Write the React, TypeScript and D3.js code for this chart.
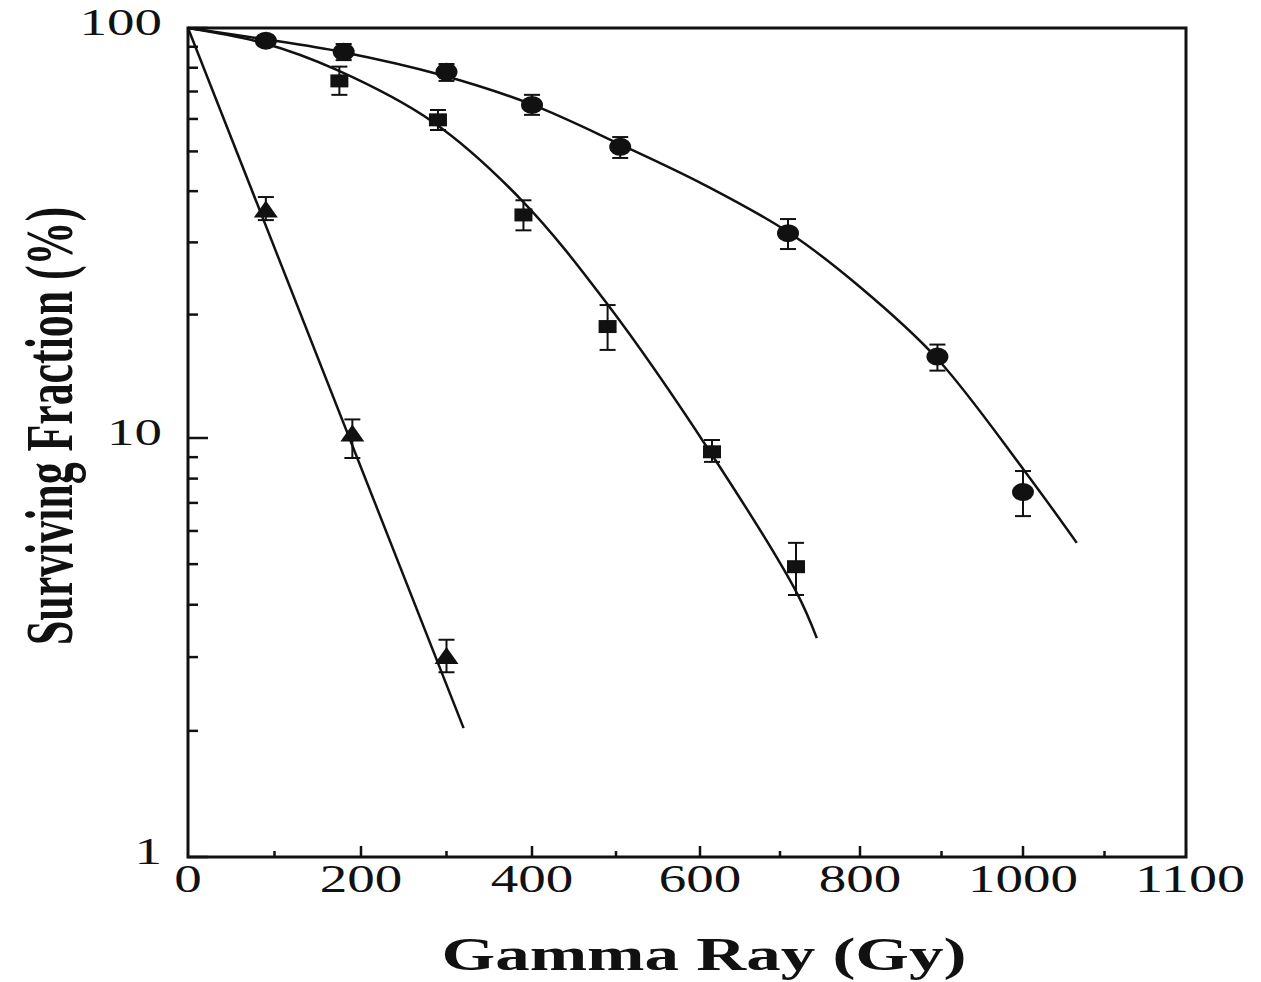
import React from "react";
import * as d3 from "d3";

// ---- data ----
const circleDose = [90, 180, 300, 400, 505, 710, 895, 1000];
const circleSF = [93.1, 87.5, 78.2, 64.9, 51.3, 31.6, 15.8, 7.43];
const circleHi = [95.5, 91.4, 81.7, 68.7, 54.2, 34.2, 16.9, 8.34];
const circleLo = [90.3, 83.5, 74.3, 61.4, 48.2, 28.9, 14.6, 6.51];

const squareDose = [175, 290, 390, 490, 615, 720];
const squareSF = [74.3, 59.7, 35.0, 18.7, 9.27, 4.93];
const squareHi = [80.5, 63.1, 38.0, 21.1, 9.89, 5.62];
const squareLo = [68.7, 56.4, 32.1, 16.4, 8.77, 4.22];

const triangleDose = [90, 190, 300];
const triangleSF = [35.9, 10.2, 3.0];
const triangleHi = [38.7, 11.1, 3.3];
const triangleLo = [34.0, 8.96, 2.76];

// fitted curves, points
const circleFitDose = [0, 87, 178, 294, 398, 507, 606, 710, 800, 894, 1001, 1066];
const circleFitSF = [100, 94.0, 87.4, 76.8, 65.3, 51.8, 41.4, 31.8, 23.35, 15.67, 8.39, 5.62];
const squareFitDose = [0, 87, 172, 284, 388, 489, 612, 721, 746];
const squareFitSF = [100, 91.9, 79.0, 59.0, 38.0, 21.3, 9.3, 4.27, 3.33];
const triangleFitDose = [0, 320];
const triangleFitSF = [100, 2.03];

const xTickValues = [0, 200, 400, 600, 800, 1000, 1200];
const xTickLabels = ["0", "200", "400", "600", "800", "1000", "1100"];
const xMinorTicks = [100, 300, 500, 700, 900, 1100];
const yTickValues = [1, 10, 100];
const yTickLabels = ["1", "10", "100"];
const yMinorTicks = [2, 3, 4, 5, 6, 7, 8, 9, 20, 30, 40, 50, 60, 70, 80, 90];

const W = 1261;
const H = 982;

export default function App() {
  const x = d3
    .scaleLinear()
    .domain(xTickValues)
    .range([188, 361, 532, 700, 860, 1023, 1186]);
  const y = d3.scaleLog().domain([1, 10, 100]).range([857, 438, 28]);

  const x0 = x(0);
  const x1 = x(1200);
  const y0 = y(1);
  const y1 = y(100);

  const line = d3
    .line<[number, number]>()
    .x((d) => x(d[0]))
    .y((d) => y(d[1]))
    .curve(d3.curveCatmullRom.alpha(0.5));
  const straight = d3
    .line<[number, number]>()
    .x((d) => x(d[0]))
    .y((d) => y(d[1]));

  const zip = (a: number[], b: number[]) =>
    a.map((v, i) => [v, b[i]] as [number, number]);

  const serif = "'Liberation Serif', 'Times New Roman', serif";
  const charW = 27.5;

  const errBar = (dose: number, hi: number, lo: number, key: string) => {
    const cx = x(dose);
    return (
      <g key={key} stroke="#111" strokeWidth={2}>
        <line x1={cx} x2={cx} y1={y(hi)} y2={y(lo)} />
        <line x1={cx - 8} x2={cx + 8} y1={y(hi)} y2={y(hi)} />
        <line x1={cx - 8} x2={cx + 8} y1={y(lo)} y2={y(lo)} />
      </g>
    );
  };

  return (
    <svg
      width={W}
      height={H}
      style={{ position: "absolute", left: 0, top: 0, background: "#fff" }}
    >
      {/* frame */}
      <rect
        x={x0}
        y={y1}
        width={x1 - x0}
        height={y0 - y1}
        fill="none"
        stroke="#111"
        strokeWidth={3}
      />

      {/* y ticks */}
      {yTickValues.map((v) => (
        <line key={"ym" + v} x1={x0} x2={x0 + 20} y1={y(v)} y2={y(v)} stroke="#111" strokeWidth={2.5} />
      ))}
      {yMinorTicks.map((v) => (
        <line key={"yn" + v} x1={x0} x2={x0 + 10} y1={y(v)} y2={y(v)} stroke="#111" strokeWidth={2.5} />
      ))}
      {yTickValues.map((v, i) => (
        <text
          key={"yl" + v}
          x={162}
          y={y(v) + 7}
          textAnchor="end"
          fontFamily={serif}
          fontSize={38}
          textLength={yTickLabels[i].length * charW}
          lengthAdjust="spacingAndGlyphs"
          fill="#111"
        >
          {yTickLabels[i]}
        </text>
      ))}

      {/* x ticks */}
      {xTickValues.slice(1, -1).map((v) => (
        <line key={"xm" + v} x1={x(v)} x2={x(v)} y1={y0} y2={y0 - 11} stroke="#111" strokeWidth={2.5} />
      ))}
      {xMinorTicks.map((v) => (
        <line key={"xn" + v} x1={x(v)} x2={x(v)} y1={y0} y2={y0 - 6} stroke="#111" strokeWidth={2.5} />
      ))}
      {xTickValues.map((v, i) => (
        <text
          key={"xl" + v}
          x={x(v) + (i === xTickValues.length - 1 ? 4 : 0)}
          y={892}
          textAnchor="middle"
          fontFamily={serif}
          fontSize={40}
          textLength={xTickLabels[i].length * charW}
          lengthAdjust="spacingAndGlyphs"
          fill="#111"
        >
          {xTickLabels[i]}
        </text>
      ))}

      {/* axis titles */}
      <text
        x={704}
        y={970}
        textAnchor="middle"
        fontFamily={serif}
        fontWeight="bold"
        fontSize={47}
        textLength={525}
        lengthAdjust="spacingAndGlyphs"
        fill="#111"
      >
        Gamma Ray (Gy)
      </text>
      <text
        transform={`translate(72, 426) rotate(-90)`}
        textAnchor="middle"
        fontFamily={serif}
        fontWeight="bold"
        fontSize={68}
        textLength={438}
        lengthAdjust="spacingAndGlyphs"
        fill="#111"
      >
        Surviving Fraction (%)
      </text>

      {/* fitted curves */}
      <path d={line(zip(circleFitDose, circleFitSF)) || ""} fill="none" stroke="#111" strokeWidth={2.5} />
      <path d={line(zip(squareFitDose, squareFitSF)) || ""} fill="none" stroke="#111" strokeWidth={2.5} />
      <path d={straight(zip(triangleFitDose, triangleFitSF)) || ""} fill="none" stroke="#111" strokeWidth={2.5} />

      {/* error bars */}
      {circleDose.map((d, i) => errBar(d, circleHi[i], circleLo[i], "ce" + i))}
      {squareDose.map((d, i) => errBar(d, squareHi[i], squareLo[i], "se" + i))}
      {triangleDose.map((d, i) => errBar(d, triangleHi[i], triangleLo[i], "te" + i))}

      {/* markers */}
      {circleDose.map((d, i) => (
        <ellipse key={"c" + i} cx={x(d)} cy={y(circleSF[i])} rx={11} ry={9} fill="#111" />
      ))}
      {squareDose.map((d, i) => (
        <rect key={"s" + i} x={x(d) - 9} y={y(squareSF[i]) - 6.5} width={18} height={13} fill="#111" />
      ))}
      {triangleDose.map((d, i) => {
        const cx = x(d);
        const cy = y(triangleSF[i]);
        return (
          <path
            key={"t" + i}
            d={`M${cx},${cy - 10} L${cx + 12},${cy + 7} L${cx - 12},${cy + 7} Z`}
            fill="#111"
          />
        );
      })}
    </svg>
  );
}
